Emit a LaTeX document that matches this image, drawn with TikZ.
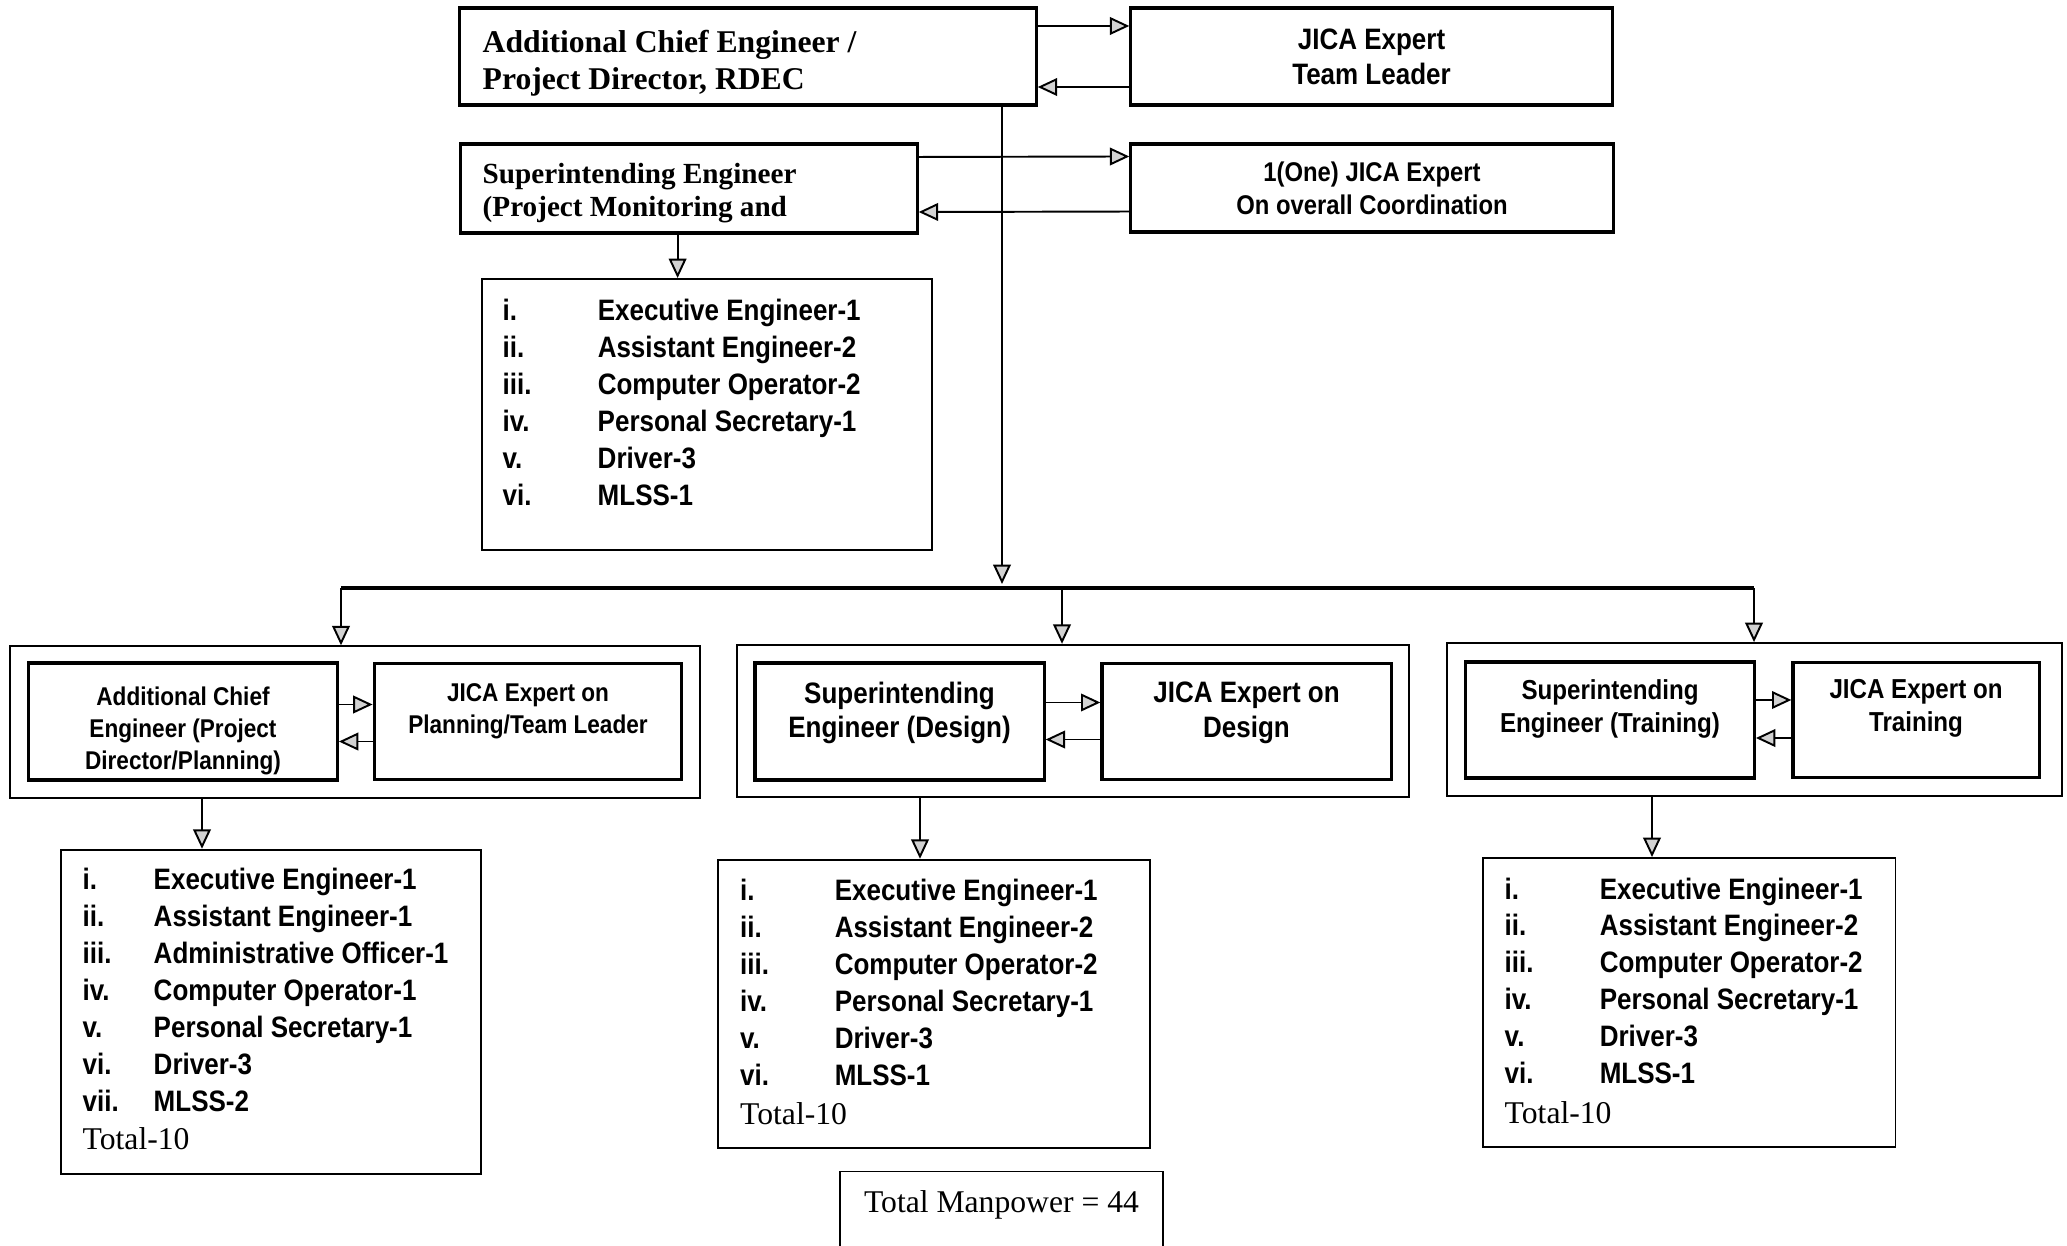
\documentclass[tikz,border=0pt]{standalone}
\usepackage{fontspec}
\setmainfont{Liberation Serif}
\newfontfamily\narrowsans[FakeStretch=0.88]{Liberation Sans}
\usetikzlibrary{positioning, arrows.meta, calc}

\begin{document}
\begin{tikzpicture}[x=0.01cm, y=-0.01cm,
    heavybox/.style={draw, line width=0.9pt, inner sep=0pt},
    lightbox/.style={draw, line width=0.5pt, inner sep=0pt},
    link/.style={line width=0.55pt, -{Triangle[width=5pt, length=5.5pt, fill=gray!35]}},
    listtext/.style={font=\narrowsans\fontsize{8.4}{10.5}\selectfont\bfseries, inner sep=0pt, anchor=base west},
    grouptext/.style={align=center, inner sep=0pt}]
    \useasboundingbox (0,0) rectangle (2067,1246);

    % ---------------- TOP LEVEL ----------------
    \node[heavybox, minimum width=5.76cm, minimum height=0.97cm] (ace) at (748,56.5) {};
    \node[align=left, inner sep=0pt, anchor=west, font=\fontsize{9}{10.5}\selectfont\bfseries] (acetxt) at (482,63) {Additional Chief Engineer /\\Project Director, RDEC};
    \node[heavybox, minimum width=4.81cm, minimum height=0.97cm, align=center,
          font=\narrowsans\fontsize{8.4}{10}\selectfont\bfseries] (jtl) at (1371.5,56.5) {JICA Expert\\Team Leader};
    \node[heavybox, minimum width=4.56cm, minimum height=0.89cm] (sepm) at (689,188.5) {};
    \node[align=left, inner sep=0pt, anchor=west, font=\fontsize{8.3}{9.4}\selectfont\bfseries] (sepmtxt) at (482,193) {Superintending Engineer\\(Project Monitoring and};
    \node[heavybox, minimum width=4.82cm, minimum height=0.88cm, align=center,
          font=\narrowsans\fontsize{7.7}{9.4}\selectfont\bfseries] (jco) at (1372,188) {1(One) JICA Expert\\On overall Coordination};

    \draw[link] ([yshift=0.305cm]ace.east) -- ([yshift=0.305cm]jtl.west);
    \draw[link] ([yshift=-0.305cm]jtl.west) -- ([yshift=-0.305cm]ace.east);
    \draw[link] ([yshift=0.315cm]sepm.east) -- ([yshift=0.315cm]jco.west);
    \draw[link] ([yshift=-0.235cm]jco.west) -- ([yshift=-0.235cm]sepm.east);

    % Monitoring staff
    \node[lightbox, minimum width=4.5cm, minimum height=2.71cm] (stpm) at (707,414.5) {};
    \node[listtext] (stpmtxt) at (502,321) {\begin{tabular}[t]{@{}p{0.95cm}@{}l@{}}
        i. & Executive Engineer-1\\
        ii. & Assistant Engineer-2\\
        iii. & Computer Operator-2\\
        iv. & Personal Secretary-1\\
        v. & Driver-3\\
        vi. & MLSS-1
    \end{tabular}};
    \coordinate (droppm) at (677.6,0);
    \draw[link] (sepm.south -| droppm) -- (stpm.north -| droppm);

    % ---------------- BUS ----------------
    \coordinate (busmain) at (1002,588);
    \coordinate (busplan) at (341,588);
    \coordinate (busdes) at (1062,588);
    \coordinate (bustrn) at (1754,588);
    \draw[link] (busmain |- ace.south) -- ([yshift=0.04cm]busmain);
    \draw[line width=0.9pt] (busplan) -- (bustrn);

    % ---------------- PLANNING ----------------
    \node[lightbox, minimum width=6.9cm, minimum height=1.515cm] (grpplan) at (355,722) {};
    \node[heavybox, minimum width=3.085cm, minimum height=1.17cm] (acep) at (183,721.5) {};
    \node[heavybox, minimum width=3.075cm, minimum height=1.16cm] (jplan) at (528,721.5) {};
    \node[grouptext, font=\narrowsans\fontsize{7.3}{9}\selectfont\bfseries] (aceptxt) at (183,731) {Additional Chief\\Engineer (Project\\Director/Planning)};
    \node[grouptext, font=\narrowsans\fontsize{7.3}{9}\selectfont\bfseries] (jplantxt) at (528,711) {JICA Expert on\\Planning/Team Leader};
    \draw[link] ([yshift=0.17cm]acep.east) -- ([yshift=0.17cm]jplan.west);
    \draw[link] ([yshift=-0.2cm]jplan.west) -- ([yshift=-0.2cm]acep.east);

    % ---------------- DESIGN ----------------
    \node[lightbox, minimum width=6.72cm, minimum height=1.525cm] (grpdes) at (1073,721) {};
    \node[heavybox, minimum width=2.89cm, minimum height=1.17cm] (sedes) at (899.5,721.5) {};
    \node[heavybox, minimum width=2.89cm, minimum height=1.16cm] (jdes) at (1246.5,721.5) {};
    \node[grouptext, font=\narrowsans\fontsize{8.4}{9.9}\selectfont\bfseries] (sedestxt) at (899.5,713) {Superintending\\Engineer (Design)};
    \node[grouptext, font=\narrowsans\fontsize{8.4}{9.9}\selectfont\bfseries] (jdestxt) at (1246.5,713) {JICA Expert on\\Design};
    \draw[link] ([yshift=0.19cm]sedes.east) -- ([yshift=0.19cm]jdes.west);
    \draw[link] ([yshift=-0.18cm]jdes.west) -- ([yshift=-0.18cm]sedes.east);

    % ---------------- TRAINING ----------------
    \node[lightbox, minimum width=6.15cm, minimum height=1.53cm] (grptrn) at (1754.5,719.5) {};
    \node[heavybox, minimum width=2.885cm, minimum height=1.16cm] (setrn) at (1610,720) {};
    \node[heavybox, minimum width=2.46cm, minimum height=1.15cm] (jtrn) at (1916,720) {};
    \node[grouptext, font=\narrowsans\fontsize{7.8}{9.3}\selectfont\bfseries] (setrntxt) at (1610,709) {Superintending\\Engineer (Training)};
    \node[grouptext, font=\narrowsans\fontsize{7.8}{9.3}\selectfont\bfseries] (jtrntxt) at (1916,708.5) {JICA Expert on\\Training};
    \draw[link] ([yshift=0.2cm]setrn.east) -- ([yshift=0.2cm]jtrn.west);
    \draw[link] ([yshift=-0.18cm]jtrn.west) -- ([yshift=-0.18cm]setrn.east);

    \draw[link] (busplan) -- (busplan |- grpplan.north);
    \draw[link] (busdes) -- (busdes |- grpdes.north);
    \draw[link] (bustrn) -- (bustrn |- grptrn.north);

    % ---------------- STAFF LISTS ----------------
    \node[lightbox, minimum width=4.2cm, minimum height=3.245cm] (stplan) at (271,1012) {};
    \node[listtext] (stplantxt) at (82,889.5) {\begin{tabular}[t]{@{}p{0.71cm}@{}l@{}}
        i. & Executive Engineer-1\\
        ii. & Assistant Engineer-1\\
        iii. & Administrative Officer-1\\
        iv. & Computer Operator-1\\
        v. & Personal Secretary-1\\
        vi. & Driver-3\\
        vii. & MLSS-2\\[0.5pt]
        \multicolumn{2}{@{}l@{}}{\rmfamily\mdseries\fontsize{9}{10.5}\selectfont Total-10}
    \end{tabular}};

    \node[lightbox, minimum width=4.315cm, minimum height=2.885cm] (stdes) at (934,1004) {};
    \node[listtext] (stdestxt) at (739.5,900.5) {\begin{tabular}[t]{@{}p{0.945cm}@{}l@{}}
        i. & Executive Engineer-1\\
        ii. & Assistant Engineer-2\\
        iii. & Computer Operator-2\\
        iv. & Personal Secretary-1\\
        v. & Driver-3\\
        vi. & MLSS-1\\[0.8pt]
        \multicolumn{2}{@{}l@{}}{\rmfamily\mdseries\fontsize{9}{10.5}\selectfont Total-10}
    \end{tabular}};

    \node[lightbox, minimum width=4.125cm, minimum height=2.89cm] (sttrn) at (1689,1002.5) {};
    \node[listtext] (sttrntxt) at (1504,899) {\begin{tabular}[t]{@{}p{0.95cm}@{}l@{}}
        i. & Executive Engineer-1\\
        ii. & Assistant Engineer-2\\
        iii. & Computer Operator-2\\
        iv. & Personal Secretary-1\\
        v. & Driver-3\\
        vi. & MLSS-1\\[0.8pt]
        \multicolumn{2}{@{}l@{}}{\rmfamily\mdseries\fontsize{9}{10.5}\selectfont Total-10}
    \end{tabular}};

    \coordinate (dropplan) at (202,0);
    \coordinate (dropdes) at (920,0);
    \coordinate (droptrn) at (1652,0);
    \draw[link] (grpplan.south -| dropplan) -- (stplan.north -| dropplan);
    \draw[link] (grpdes.south -| dropdes) -- (stdes.north -| dropdes);
    \draw[link] (grptrn.south -| droptrn) -- (sttrn.north -| droptrn);

    % Total
    \node[lightbox, minimum width=3.23cm, minimum height=1cm, anchor=north] (tot) at (1001.5,1170.5) {};
    \node[font=\fontsize{9}{10}\selectfont, inner sep=0pt] (tottxt) at (1001.5,1205) {Total Manpower = 44};
\end{tikzpicture}
\end{document}
